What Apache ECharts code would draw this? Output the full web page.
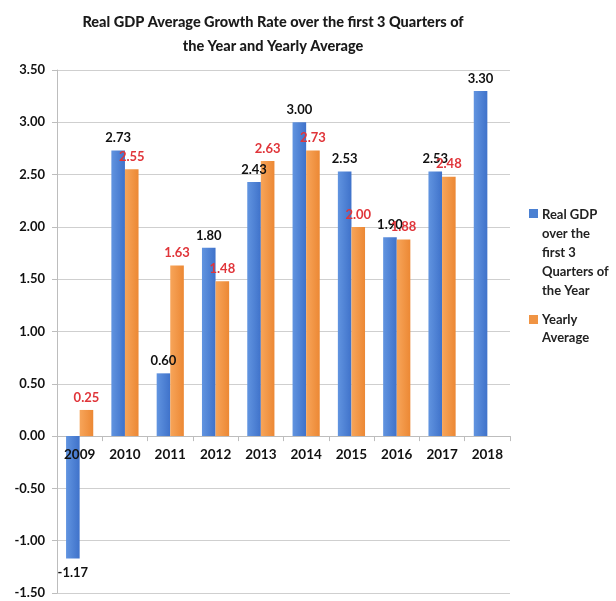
<!DOCTYPE html>
<html>
<head>
<meta charset="utf-8">
<script src="https://cdn.jsdelivr.net/npm/echarts@6/dist/echarts.min.js"></script>
<style>
  html, body { margin: 0; padding: 0; background: #fff; }
  #chart { width: 616px; height: 601px; }
</style>
</head>
<body>
<div id="chart"></div>
<script>
// data
var years = ['2009', '2010', '2011', '2012', '2013', '2014', '2015', '2016', '2017', '2018'];
var gdpFirst3Q = [-1.17, 2.73, 0.60, 1.80, 2.43, 3.00, 2.53, 1.90, 2.53, 3.30];
var yearlyAvg = [0.25, 2.55, 1.63, 1.48, 2.63, 2.73, 2.00, 1.88, 2.48, null];
var seriesNames = ['Real GDP over the first 3 Quarters of the Year', 'Yearly Average'];

var font = 'Lato, "Open Sans", sans-serif';
var blue = new echarts.graphic.LinearGradient(0, 0, 1, 0, [
    { offset: 0, color: '#6194e0' },
    { offset: 1, color: '#3f72ca' }
]);
var orange = new echarts.graphic.LinearGradient(0, 0, 1, 0, [
    { offset: 0, color: '#f7a55a' },
    { offset: 1, color: '#ec8834' }
]);

var myChart = echarts.init(document.getElementById('chart'));

var option = {
    backgroundColor: '#fff',
    animation: false,
    title: {
        text: 'Real GDP Average Growth Rate over the first 3 Quarters of\nthe Year and Yearly Average',
        left: 268,
        textAlign: 'center',
        top: 5,
        textStyle: { fontFamily: font, fontSize: 14.5, fontWeight: 900, color: '#1a1a1a', lineHeight: 24 }
    },
    // grid 0 holds the bars, grid 1 only carries the year labels under the zero line
    grid: [
        { left: 57, right: 106, top: 70, bottom: 8 },
        { left: 57, right: 106, top: 70, bottom: 165 }
    ],
    xAxis: [{
        type: 'category',
        gridIndex: 0,
        data: years,
        axisLine: { onZero: true, lineStyle: { color: '#bdbdbd' } },
        axisTick: { show: true, length: 5, lineStyle: { color: '#bdbdbd' } },
        axisLabel: { show: false }
    }, {
        type: 'category',
        gridIndex: 1,
        z: 5,
        data: years,
        axisLine: { show: false },
        axisTick: { show: false },
        axisLabel: { fontFamily: font, fontSize: 13.5, fontWeight: 'bold', color: '#111', margin: 12 }
    }],
    yAxis: [{
        type: 'value',
        gridIndex: 0,
        min: -1.5,
        max: 3.5,
        interval: 0.5,
        axisLine: { show: true, lineStyle: { color: '#bdbdbd' } },
        axisTick: { show: true, length: 5, lineStyle: { color: '#bdbdbd' } },
        splitLine: { lineStyle: { color: '#cfcfcf' } },
        axisLabel: {
            fontFamily: font, fontSize: 13, fontWeight: 'bold', color: '#111', margin: 12,
            formatter: function (v) { return v.toFixed(2); }
        }
    }, {
        type: 'value',
        gridIndex: 1,
        show: false
    }],
    series: [{
        name: seriesNames[0],
        type: 'bar',
        barGap: 0,
        barCategoryGap: '40%',
        itemStyle: { color: blue },
        label: {
            show: true, position: 'top', distance: 6,
            fontFamily: font, fontSize: 13, fontWeight: 'bold', color: '#111',
            formatter: function (p) { return p.value.toFixed(2); }
        },
        data: gdpFirst3Q.map(function (v) {
            if (v < 0) return { value: v, label: { position: 'bottom', distance: 8 } };
            return v;
        })
    }, {
        name: seriesNames[1],
        type: 'bar',
        itemStyle: { color: orange },
        label: {
            show: true, position: 'top', distance: 6,
            fontFamily: font, fontSize: 13, fontWeight: 'bold', color: '#e0353a',
            formatter: function (p) { return p.value.toFixed(2); }
        },
        data: yearlyAvg
    }],
    // legend drawn by hand: the text wraps and the swatch sits on the first line
    graphic: [
        { type: 'rect', left: 529, top: 209, shape: { width: 9, height: 9 }, style: { fill: '#4a80d2' } },
        { type: 'text', left: 542, top: 205, style: { text: 'Real GDP\nover the\nfirst 3\nQuarters of\nthe Year', fontFamily: font, fontSize: 13, fontWeight: 'bold', fill: '#222', lineHeight: 19 } },
        { type: 'rect', left: 529, top: 315, shape: { width: 9, height: 9 }, style: { fill: '#f09444' } },
        { type: 'text', left: 542, top: 311, style: { text: 'Yearly\nAverage', fontFamily: font, fontSize: 13, fontWeight: 'bold', fill: '#222', lineHeight: 18 } }
    ]
};

myChart.setOption(option);
</script>
</body>
</html>
